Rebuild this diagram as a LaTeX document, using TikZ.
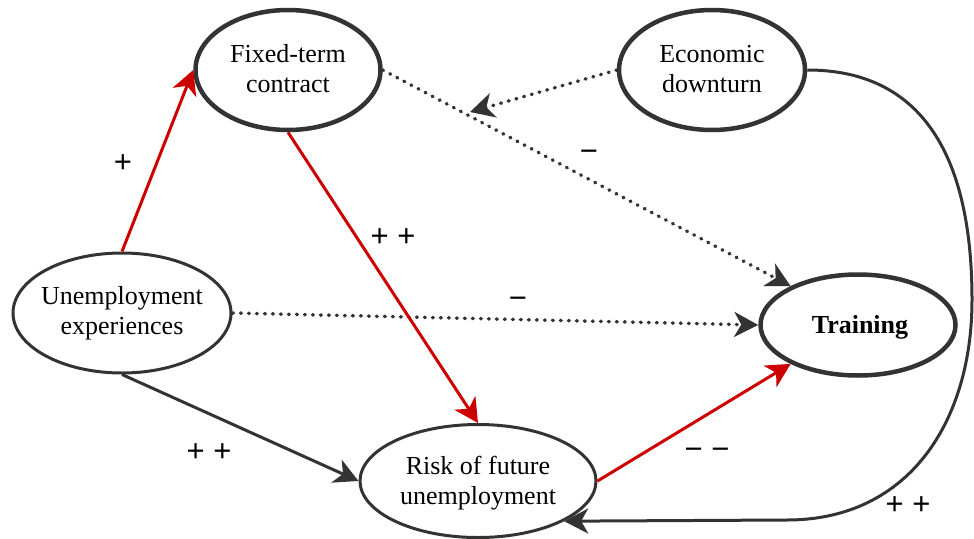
\documentclass[tikz,border=0pt]{standalone}
\usepackage{fontspec}
\setmainfont{Liberation Serif}
\newfontfamily\labfont{Liberation Sans}
\usetikzlibrary{shapes.geometric,arrows.meta}
\definecolor{dk}{HTML}{333333}
\definecolor{rd}{HTML}{CC0000}
\begin{document}
\begin{tikzpicture}[x=1pt,y=-1pt,
  elbase/.style={ellipse, draw=dk, fill=white, inner sep=0pt},
  bigel/.style={elbase, line width=4.5pt},
  smallel/.style={elbase, line width=3pt},
  txt/.style={align=center, inner sep=0pt, text=black, font=\fontsize{26}{30}\selectfont},
  lab/.style={inner sep=0pt, anchor=base, text=black, font=\labfont\fontsize{31}{31}\selectfont},
  arr/.style={line width=3pt, -{Stealth[length=24pt,width=25pt,inset=7pt]}},
  blk/.style={arr, draw=dk},
  redarr/.style={arr, draw=rd},
  dots/.style={blk, line width=3.5pt, dash pattern=on 0.8pt off 7.2pt, line cap=round}
]
\useasboundingbox (0,0) rectangle (974,538);

% ellipses
\node[bigel, minimum width=185pt, minimum height=120pt] (F) at (288,70) {};
\node[bigel, minimum width=186pt, minimum height=120pt] (E) at (712,70) {};
\node[smallel, minimum width=218pt, minimum height=120pt] (U) at (122,313) {};
\node[bigel, minimum width=195pt, minimum height=101pt] (T) at (858,325) {};
\node[smallel, minimum width=236pt, minimum height=113pt] (R) at (478,481) {};

% texts
\node[txt] (Ft) at (288,69) {Fixed-term\\contract};
\node[txt] (Et) at (712,69) {Economic\\downturn};
\node[txt] (Ut) at (122,313) {Unemployment\\experiences};
\node[txt, font=\fontsize{26}{30}\selectfont\bfseries] (Tt) at (860,327) {Training};
\node[txt] (Rt) at (478,483) {Risk of future\\unemployment};

% connectors
\coordinate (mFT) at (470,112);
\draw[dots] (F.east) -- (T.150);
\draw[dots] (E.west) -- (mFT);
\draw[dots] (U.east) -- (T.west);
\draw[redarr] (U.north) -- (F.west);
\draw[redarr] (F.south) -- (R.north);
\draw[redarr] (R.east) -- (T.210);
\draw[blk] (U.south) -- (R.west);
\draw[blk] (E.east) .. controls (918,70) and (972,150) .. (972,300)
  .. controls (972,420) and (910,520) .. (787,520) -- (R.-25);

% labels
\node[lab] (l1) at (123,172) {+};
\node[lab] (l2) at (393,246) {+ +};
\node[lab] (l3) at (518,308) {−};
\node[lab] (l4) at (589,161) {−};
\node[lab] (l5) at (209,461) {+ +};
\node[lab] (l6) at (707,459) {− −};
\node[lab] (l7) at (908,514) {+ +};
\end{tikzpicture}
\end{document}
